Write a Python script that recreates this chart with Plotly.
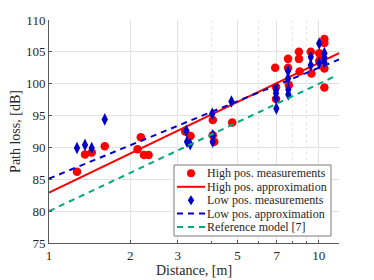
import plotly.graph_objects as go

# High position measurements
high_d = [1.27, 1.36, 1.44, 1.61, 2.13, 2.19, 2.25, 2.34,
          3.20, 3.35, 4.05, 4.05, 4.10, 4.78,
          6.90, 6.95, 6.95, 7.70, 7.70, 7.75,
          8.45, 8.45, 8.50, 9.35, 9.40,
          10.05, 10.05, 10.5, 10.5, 10.5, 10.5]
high_pl = [86.2, 88.9, 89.2, 90.2, 89.7, 91.6, 88.8, 88.8,
           92.5, 91.8, 94.3, 91.9, 90.9, 93.9,
           102.5, 99.5, 97.6, 103.9, 102.5, 99.8,
           105.0, 103.9, 101.9, 105.0, 101.6,
           104.8, 103.6, 107.0, 106.4, 102.4, 99.4]

# Low position measurements
low_d = [1.27, 1.36, 1.44, 1.61,
         3.23, 3.25, 3.34, 4.03, 4.05, 4.05, 4.75,
         6.95, 6.95, 6.95, 6.97,
         7.70, 7.70, 7.72, 7.72,
         9.35, 9.35, 10.05, 10.05,
         10.5, 10.5, 10.5]
low_pl = [89.9, 90.4, 89.9, 94.4,
          92.6, 90.9, 90.5, 95.3, 90.9, 91.9, 97.2,
          99.0, 98.5, 97.7, 96.1,
          102.0, 100.8, 99.1, 98.3,
          104.2, 102.9, 106.3, 103.2,
          104.8, 104.1, 103.4]

# Approximation lines (end points)
approx_d = [1.0, 11.9]
high_approx = [82.9, 104.8]
low_approx = [85.1, 103.8]
ref_d = [1.0, 11.4]
ref_pl = [80.0, 101.1]

x_ticks = [1, 2, 3, 5, 7, 10]
x_minor = [4, 6, 8, 9]
y_ticks = [75, 80, 85, 90, 95, 100, 105, 110]

legend_names = ["High pos. measurements", "High pos. approximation",
                "Low pos. measurements", "Low pos. approximation",
                "Reference model [7]"]

RED = "#ff0000"
BLUE = "#0000c8"
GREEN = "#00a97a"
FONT = "Liberation Serif"
DASH = "6px,5px"

# the page body has an 8px margin, so the figure is drawn 8px right/down
OFF = 8
W, H = 374 - OFF, 280 - OFF
ML, MR, MT, MB = 41, 35, 12, 37
PW, PH = W - ML - MR, H - MT - MB


def px(xw):
    return (xw - OFF - ML) / PW


def py(yw):
    return (H - MB - (yw - OFF)) / PH


fig = go.Figure()
fig.add_trace(go.Scatter(x=high_d, y=high_pl, mode="markers", name=legend_names[0],
                         marker=dict(color=RED, size=8.5, symbol="circle", line=dict(width=0))))
fig.add_trace(go.Scatter(x=approx_d, y=high_approx, mode="lines", name=legend_names[1],
                         line=dict(color=RED, width=2)))
fig.add_trace(go.Scatter(x=low_d, y=low_pl, mode="markers", name=legend_names[2],
                         marker=dict(color=BLUE, size=9, symbol="diamond-tall", line=dict(width=0))))
fig.add_trace(go.Scatter(x=approx_d, y=low_approx, mode="lines", name=legend_names[3],
                         line=dict(color=BLUE, width=2, dash=DASH)))
fig.add_trace(go.Scatter(x=ref_d, y=ref_pl, mode="lines", name=legend_names[4],
                         line=dict(color=GREEN, width=2, dash=DASH)))

# ---- compact legend drawn with shapes + annotations ----
shapes = []
annotations = []
box_l, box_r, box_t, box_b = 174, 331, 165, 236
shapes.append(dict(type="rect", xref="paper", yref="paper",
                   x0=px(box_l), x1=px(box_r), y0=py(box_b), y1=py(box_t),
                   fillcolor="white", line=dict(color="#7a7a7a", width=1), layer="above"))
item_y = [173.3, 186.8, 200.2, 213.6, 227.0]
sym_l, sym_r, sym_c = 177, 205, 191
for i, (name, yy) in enumerate(zip(legend_names, item_y)):
    if i == 0:
        shapes.append(dict(type="circle", xref="paper", yref="paper",
                           xsizemode="pixel", ysizemode="pixel",
                           xanchor=px(sym_c), yanchor=py(yy),
                           x0=-4, x1=4, y0=-4, y1=4,
                           fillcolor=RED, line=dict(width=0), layer="above"))
    elif i == 2:
        shapes.append(dict(type="path", xref="paper", yref="paper",
                           xsizemode="pixel", ysizemode="pixel",
                           xanchor=px(sym_c), yanchor=py(yy),
                           path="M 0,-5 L 3.2,0 L 0,5 L -3.2,0 Z",
                           fillcolor=BLUE, line=dict(width=0), layer="above"))
    else:
        col = RED if i == 1 else (BLUE if i == 3 else GREEN)
        dash = "solid" if i == 1 else DASH
        shapes.append(dict(type="line", xref="paper", yref="paper",
                           x0=px(sym_l), x1=px(sym_r), y0=py(yy), y1=py(yy),
                           line=dict(color=col, width=2, dash=dash), layer="above"))
    annotations.append(dict(text=name, xref="paper", yref="paper",
                            x=px(206), y=py(yy), xanchor="left", yanchor="middle",
                            showarrow=False, borderpad=0,
                            font=dict(family=FONT, size=12, color="#262626")))

fig.update_layout(
    width=W, height=H,
    margin=dict(l=ML, r=MR, t=MT, b=MB, autoexpand=False),
    paper_bgcolor="white", plot_bgcolor="white",
    font=dict(family=FONT, size=12, color="#262626"),
    showlegend=False,
    shapes=shapes, annotations=annotations,
)
fig.update_xaxes(
    type="log", range=[0, 1.0755], automargin=False,
    tickmode="array", tickvals=x_ticks, ticktext=[str(v) for v in x_ticks],
    showgrid=True, gridcolor="#e3e3e3", gridwidth=1,
    showline=True, linecolor="#5a5a5a", linewidth=1,
    ticks="inside", ticklen=3, tickcolor="#5a5a5a",
    minor=dict(tickmode="array", tickvals=x_minor, showgrid=True, gridcolor="#e6e6e6",
               griddash="dot", ticks="inside", ticklen=2, tickcolor="#5a5a5a"),
    zeroline=False,
    title=dict(text="Distance, [m]", font=dict(family=FONT, size=14), standoff=3),
    tickfont=dict(family=FONT, size=13),
)
fig.update_yaxes(
    range=[75, 110], tickmode="array", tickvals=y_ticks, automargin=False,
    showgrid=True, gridcolor="#e3e3e3", gridwidth=1,
    showline=True, linecolor="#5a5a5a", linewidth=1,
    ticks="inside", ticklen=3, tickcolor="#5a5a5a",
    zeroline=False,
    title=dict(text="Path loss, [dB]", font=dict(family=FONT, size=14), standoff=12),
    tickfont=dict(family=FONT, size=13),
)

fig.write_html("out.html")
